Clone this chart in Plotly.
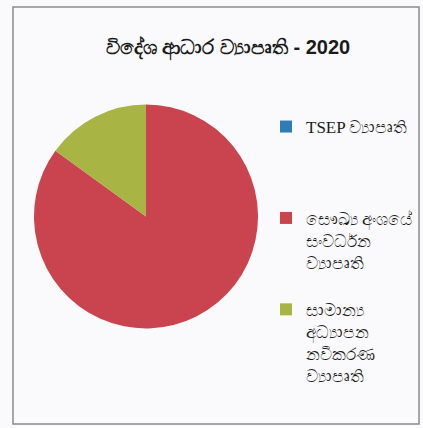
import plotly.graph_objects as go

title_text = "විදේශ ආධාර ව්‍යාපෘති - 2020"
categories = [
    "TSEP ව්‍යාපෘති",
    "සෞඛ්‍ය අංශයේ<br>සංවර්ධන<br>ව්‍යාපෘති",
    "සාමාන්‍ය<br>අධ්‍යාපන<br>නවීකරණ<br>ව්‍යාපෘති",
]
values = [0, 85, 15]
colors = ["#2E7DB5", "#C9444E", "#A8B444"]

# pad legend entries with blank lines to reproduce spacing
pad = [3, 1, 0]
legend_names = [c + "<br>&nbsp;" * p for c, p in zip(categories, pad)]

W, H = 423, 428

fig = go.Figure(go.Pie(
    labels=legend_names,
    values=values,
    marker=dict(colors=colors, line=dict(width=0)),
    sort=False,
    direction="clockwise",
    rotation=0,
    textinfo="none",
    hoverinfo="label+percent",
    domain=dict(x=[34 / W, 258 / W], y=[(H - 329) / H, (H - 104) / H]),
))

fig.update_layout(
    width=W, height=H,
    margin=dict(l=0, r=0, t=0, b=0),
    paper_bgcolor="#fafafc",
    plot_bgcolor="#fafafc",
    title=dict(
        text="<b>" + title_text + "</b>",
        x=228 / W, xanchor="center",
        y=1 - 47 / H, yanchor="middle",
        font=dict(family="Liberation Sans, Noto Sans, sans-serif", size=20, color="#1a1a1a"),
    ),
    legend=dict(
        x=266 / W, xanchor="left",
        y=1 - 109 / H, yanchor="top",
        valign="top",
        font=dict(family="Liberation Serif, Noto Sans, serif", size=17, color="#1a1a1a"),
        bgcolor="rgba(0,0,0,0)",
        itemwidth=30,
    ),
    shapes=[dict(
        type="rect", xref="paper", yref="paper",
        x0=13 / W, x1=419 / W, y0=1 - 424 / H, y1=1 - 7 / H,
        line=dict(color="#8a8a8a", width=1.5),
    )],
)

fig.write_html(
    "out.html",
    config={"displayModeBar": False},
    post_script="document.body.style.margin='0';document.body.style.overflow='hidden';",
)
